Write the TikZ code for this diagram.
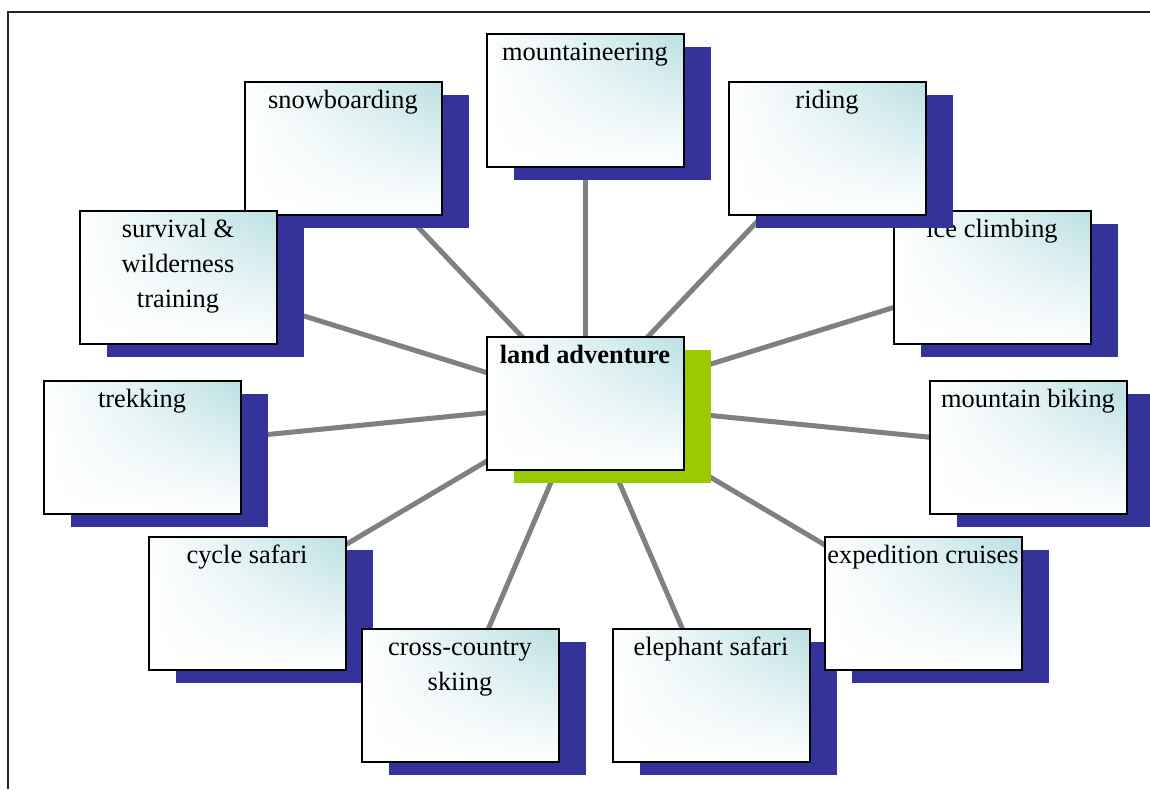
\documentclass[tikz,border=0pt]{standalone}
\usepackage{fontspec}
\setmainfont{Liberation Serif}
\usetikzlibrary{shadows,shadings,backgrounds}
\definecolor{shadowblue}{RGB}{51,51,153}
\definecolor{hubgreen}{RGB}{153,204,0}
\definecolor{tealtint}{RGB}{187,224,227}
\definecolor{spokegray}{RGB}{128,128,128}

\begin{document}
\begin{tikzpicture}[
	%	style def
    x=0.5pt, y=-0.5pt,
    frame line/.style={draw=black!85, line width=0.7pt},
    spoke/.style={draw=spokegray, line width=2.5pt},
    box/.style={draw=black, line width=1pt, minimum width=98.5pt, minimum height=66.5pt,
        inner sep=0pt, upper right=tealtint, upper left=white, lower left=white, lower right=white},
    topic/.style={box, drop shadow={shadow xshift=13.5pt, shadow yshift=-6.5pt, fill=shadowblue, opacity=1}},
    hub/.style={box, drop shadow={shadow xshift=13.5pt, shadow yshift=-6.5pt, fill=hubgreen, opacity=1}},
    toptext/.style={anchor=north, yshift=-1.5pt, inner sep=0pt, align=center,
        font=\fontsize{13.2}{17.5}\selectfont, execute at begin node=\strut}
    ]
    \useasboundingbox (0,0) rectangle (1150,789);

	% outer frame, open at bottom and right
	\draw[frame line] (8,789) -- (8,12) -- (1150,12);

	% topic boxes round the hub
	\node[topic, label={[toptext]north:mountaineering}] (mount) at (585,100) {};
	\node[topic, label={[toptext]north:snowboarding}] (snow) at (343,148) {};
	\node[topic, label={[toptext]north:\strut survival \&\\ wilderness\\ training}] (surv) at (178,277) {};
	\node[topic, label={[toptext]north:trekking}] (trek) at (142,447) {};
	\node[topic, label={[toptext]north:cycle safari}] (cycle) at (247,603) {};
	\node[topic, label={[toptext]north:\strut cross-country\\ skiing}] (ski) at (460,695) {};
	\node[topic, label={[toptext]north:elephant safari}] (eleph) at (711,695) {};
	\node[topic, label={[toptext]north:expedition cruises}] (cruise) at (923,603) {};
	\node[topic, label={[toptext]north:mountain biking}] (bike) at (1028,447) {};
	\node[topic, label={[toptext]north:ice climbing}] (ice) at (992,277) {};
	\node[topic, label={[toptext]north:riding}] (ride) at (827,148) {};

	% centre box
	\node[hub, label={[toptext, font=\fontsize{13.2}{17.5}\selectfont\bfseries]north:land adventure}] (hub) at (585,403) {};

	% spokes, behind everything
	\begin{scope}[on background layer]
	\draw[spoke] (hub.center) -- (mount.center);
	\draw[spoke] (hub.center) -- (snow.center);
	\draw[spoke] (hub.center) -- (surv.center);
	\draw[spoke] (hub.center) -- (trek.center);
	\draw[spoke] (hub.center) -- (cycle.center);
	\draw[spoke] (hub.center) -- (ski.center);
	\draw[spoke] (hub.center) -- (eleph.center);
	\draw[spoke] (hub.center) -- (cruise.center);
	\draw[spoke] (hub.center) -- (bike.center);
	\draw[spoke] (hub.center) -- (ice.center);
	\draw[spoke] (hub.center) -- (ride.center);
	\end{scope}
\end{tikzpicture}
\end{document}
